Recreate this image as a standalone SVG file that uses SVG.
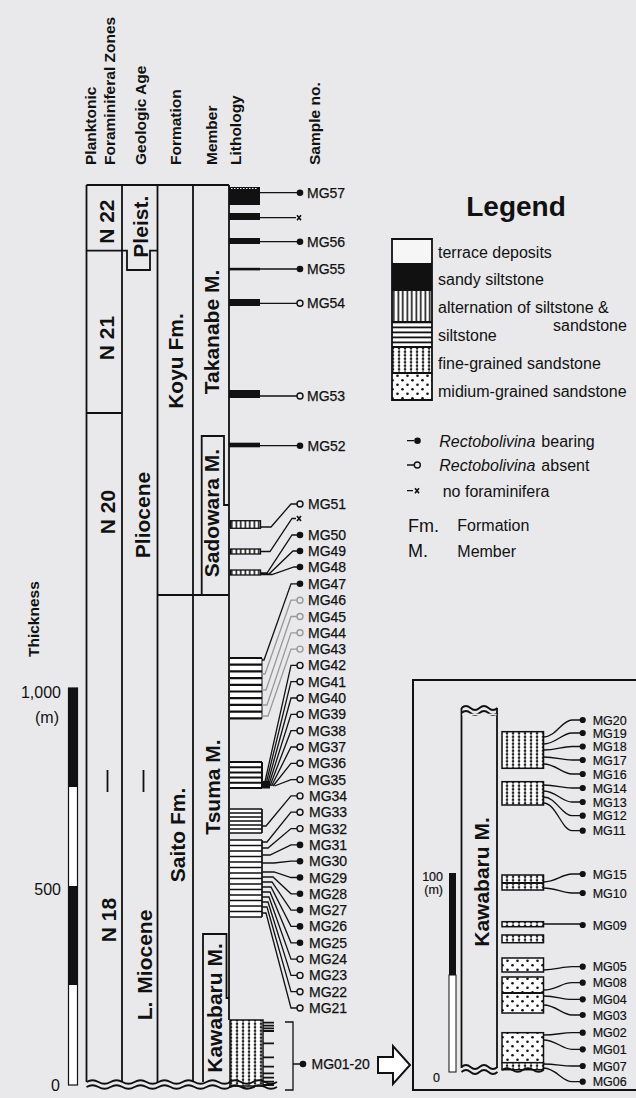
<svg xmlns="http://www.w3.org/2000/svg" width="636" height="1098" viewBox="0 0 636 1098">
<style>
.t{font-family:"Liberation Sans",Arial,Helvetica,sans-serif;fill:#111}
.hd{font-size:15.5px;font-weight:bold}
.cl{font-size:21px;font-weight:bold}
.mg{font-size:14px;stroke:#111;stroke-width:0.25}
.mi{font-size:12.5px;stroke:#111;stroke-width:0.2}
.lg{font-size:16px}
.ln{fill:none;stroke:#111;stroke-width:1.8}
.cn{fill:none;stroke:#111;stroke-width:1.3}
.fa{stroke:#999}
.fd{fill:#111}
.od{fill:#e9e9eb;stroke:#111;stroke-width:1.4}
.og{fill:#e9e9eb;stroke:#999;stroke-width:1.4}
.bk{fill:#111}
</style>
<defs>
<pattern id="pv" width="4.5" height="10" patternUnits="userSpaceOnUse"><rect width="4.5" height="10" fill="#fff"/><rect x="1.5" width="1.6" height="10" fill="#111"/></pattern>
<pattern id="ph" width="10" height="5" patternUnits="userSpaceOnUse"><rect width="10" height="5" fill="#fff"/><rect y="1.5" width="10" height="1.8" fill="#111"/></pattern>
<pattern id="pf" width="6" height="3.5" patternUnits="userSpaceOnUse"><rect width="6" height="3.5" fill="#fff"/><rect x="2.6" width="0.9" height="3.5" fill="#111"/><rect x="1.8" y="1" width="2.4" height="1.5" fill="#111"/></pattern>
<pattern id="pm" width="10" height="9" patternUnits="userSpaceOnUse"><rect width="10" height="9" fill="#fff"/><circle cx="2.5" cy="2.2" r="1.3" fill="#111"/><circle cx="7.5" cy="6.7" r="1.3" fill="#111"/></pattern>
</defs>
<rect width="636" height="1098" fill="#e9e9eb"/>

<g id="headers">
<text class="t hd" transform="translate(96.1,165) rotate(-90)">Planktonic</text>
<text class="t hd" transform="translate(114.7,165) rotate(-90)">Foraminiferal Zones</text>
<text class="t hd" transform="translate(146.1,165) rotate(-90)">Geologic Age</text>
<text class="t hd" transform="translate(181.4,165) rotate(-90)">Formation</text>
<text class="t hd" transform="translate(217.1,165) rotate(-90)">Member</text>
<text class="t hd" transform="translate(241.1,165) rotate(-90)">Lithology</text>
<text class="t hd" transform="translate(320.4,165) rotate(-90)">Sample no.</text>
<text class="t hd" transform="translate(38.5,657) rotate(-90)">Thickness</text>
</g>

<g id="scale">
<rect x="68.5" y="688" width="9" height="99" class="bk"/>
<rect x="68.5" y="787" width="9" height="99" fill="#fff"/>
<rect x="68.5" y="886" width="9" height="99" class="bk"/>
<rect x="68.5" y="985" width="9" height="100" fill="#fff"/>
<rect x="68.5" y="688" width="9" height="397" fill="none" stroke="#111" stroke-width="1.2"/>
<text class="t lg" x="61" y="698" text-anchor="end">1,000</text>
<text class="t lg" x="59" y="723" text-anchor="end">(m)</text>
<text class="t lg" x="61" y="895" text-anchor="end">500</text>
<text class="t lg" x="60" y="1091" text-anchor="end">0</text>
</g>

<g id="columns">
<path class="ln" d="M86.5 185H229M86.5 185V1082M122 185V1082M157.5 185V1082M193 185V1082M229 185V1020"/>
<path class="ln" d="M86.5 250.7H127V270H150V250.7H157.5"/>
<path class="ln" d="M86.5 413H122"/>
<path class="ln" d="M107.5 770V792M143.5 770V792"/>
<path class="ln" d="M157.5 595H229"/>
<path class="ln" d="M201.7 595V436H224V505H229"/>
<path class="ln" d="M203 1082V934H226.5V998H229"/>
<path class="ln" d="M86.5 1082q6 -3.5 12 0t12 0t12 0t12 0t12 0t12 0t12 0t12 0t12 0t12 0t12 0t12 0t12 0t12 0"/>
<path class="ln" d="M86.5 1087q6 -3.5 12 0t12 0t12 0t12 0t12 0t12 0t12 0t12 0t12 0t12 0t12 0t12 0t12 0t12 0"/>
</g>

<g id="labels">
<text class="t cl" transform="translate(114.1,221.7) rotate(-90)" text-anchor="middle">N 22</text>
<text class="t cl" transform="translate(148.1,226.7) rotate(-90)" text-anchor="middle">Pleist.</text>
<text class="t cl" transform="translate(114.1,338) rotate(-90)" text-anchor="middle">N 21</text>
<text class="t cl" transform="translate(183.4,361) rotate(-90)" text-anchor="middle">Koyu Fm.</text>
<text class="t cl" transform="translate(219.1,332) rotate(-90)" text-anchor="middle">Takanabe M.</text>
<text class="t cl" transform="translate(114.6,512) rotate(-90)" text-anchor="middle">N 20</text>
<text class="t cl" transform="translate(150,515) rotate(-90)" text-anchor="middle">Pliocene</text>
<text class="t cl" transform="translate(219.4,513) rotate(-90)" text-anchor="middle">Sadowara M.</text>
<text class="t cl" transform="translate(184.5,835) rotate(-90)" text-anchor="middle">Saito Fm.</text>
<text class="t cl" transform="translate(220.4,787) rotate(-90)" text-anchor="middle">Tsuma M.</text>
<text class="t cl" transform="translate(115.5,920) rotate(-90)" text-anchor="middle">N 18</text>
<text class="t cl" transform="translate(151.5,965) rotate(-90)" text-anchor="middle">L.<tspan dx="8">Miocene</tspan></text>
<text class="t cl" transform="translate(222.4,1008) rotate(-90)" text-anchor="middle">Kawabaru M.</text>
</g>

<g id="lithology">
<rect x="229" y="187" width="31" height="18" class="bk"/>
<path d="M231 188.5H258" stroke="#fff" stroke-width="1.2" stroke-dasharray="1.5 1.5"/>
<rect x="229" y="213" width="31" height="7" class="bk"/>
<rect x="229" y="238" width="31" height="6" class="bk"/>
<rect x="229" y="267.8" width="31" height="2.6" class="bk"/>
<rect x="229" y="299" width="31" height="7" class="bk"/>
<rect x="229" y="390" width="31" height="8" class="bk"/>
<rect x="229" y="442.7" width="31" height="4.6" class="bk"/>
<rect x="230.5" y="520.7" width="30" height="7.6" fill="url(#pv)" stroke="#111" stroke-width="1.3"/>
<rect x="230.5" y="549" width="30" height="5" fill="url(#pv)" stroke="#111" stroke-width="1.3"/>
<rect x="230.5" y="570" width="30" height="5" fill="url(#pv)" stroke="#111" stroke-width="1.3"/>
<rect x="230" y="658" width="32" height="61" fill="#fff"/>
<path stroke="#111" stroke-width="2.2" d="M230 658H262M230 664.7H262M230 671.4H262M230 678.1H262M230 684.8H262M230 691.5H262M230 698.2H262M230 704.9H262M230 711.6H262M230 718.3H262"/>
<path stroke="#111" stroke-width="1" d="M262 658V718.3"/>
<rect x="230" y="762" width="32" height="26" fill="#fff"/>
<path stroke="#111" stroke-width="2" d="M230 762H262M230 767.2H262M230 772.4H262M230 777.6H262M230 782.8H262M230 788H262M262 762V788"/>
<rect x="262" y="781" width="8" height="7.5" class="bk"/>
<rect x="230" y="809" width="32" height="24" fill="#fff"/>
<path stroke="#111" stroke-width="1.7" d="M230 809H262M230 813H262M230 817H262M230 821H262M230 825H262M230 829H262M230 833H262M262 809V833"/>
<rect x="230" y="840" width="32" height="77" fill="#fff"/>
<path stroke="#111" stroke-width="1.7" d="M230 840H262M230 845.5H262M230 851H262M230 856.5H262M230 862H262M230 867.5H262M230 873H262M230 878.5H262M230 884H262M230 889.5H262M230 895H262M230 900.5H262M230 906H262M230 911.5H262M230 917H262M262 840V917"/>
<rect x="230" y="1020" width="33" height="66" fill="url(#pf)" stroke="#111" stroke-width="1.5"/>
<path stroke="#111" stroke-width="1.8" d="M263 1022.7H274M263 1025.7H274M263 1028.3H274M263 1031H274M263 1043.3H274M263 1057.3H274M263 1066.7H274M263 1073.3H274M263 1077.7H274M263 1081.7H274M263 1085H274"/>
<path class="ln" d="M229 1082q6 -3.5 12 0t12 0t12 0t12 0"/>
<path d="M229 1088.5H278V1098H229Z" fill="#e9e9eb"/>
<path class="ln" d="M229 1087q6 -3.5 12 0t12 0t12 0t12 0"/>
</g>

<g id="connectors">
<path class="cn" d="M260 192.7H297M260 217.7H296M260 241.7H297M260 269H297M260 303.3H297M260 396H297M260 445.7H297"/>
<path class="cn" d="M261 527H271L291 504H297M261 551.5H270L292 518.5H296M261 573H267L292 535H297M261 574H269L293 551H297M261 574.5H272L294 567H297"/>
<path class="cn" d="M262 660H264L291 583.8H297"/>
<path class="cn fa" d="M262 674H265L291 600.2H297M262 690H266L291 616.5H297M262 705H267L291 632.8H297M262 716H268L291 649.1H297"/>
<path class="cn" d="M264 786L291 665.4H297M265.5 786L291 681.7H297M267 786L291 698H297M268.5 786L291 714.4H297M270 786L291 730.7H297M271.5 786L291 747H297M273 786L291 763.3H297M274.5 786L291 779.6H297"/>
<path class="cn" d="M262 826H266L291 795.9H297M262 842H267L291 812.2H297M262 848H268L291 828.6H297M262 855H270L291 844.9H297M262 863H274L291 861.2H297"/>
<path class="cn" d="M262 872H274L291 877.5H297M262 877H273L291 893.8H297M262 882H272L291 910.1H297M262 887H271L291 926.4H297M262 892H270L291 942.8H297M262 897H269L291 959.1H297M262 902H268L291 975.4H297M262 907H267L291 991.7H297M262 913H266L291 1008H297"/>
<path class="cn" d="M285 1022H293V1090H285M293 1064H300"/>
<path d="M378 1057H393V1046L410 1065L393 1084V1073H378Z" fill="#fff" stroke="#111" stroke-width="2"/>
</g>

<g id="samples">
<circle cx="300" cy="192.7" r="3.3" class="fd"/>
<path d="M297 215.2L301 220.2M301 215.2L297 220.2" stroke="#111" stroke-width="1.6"/>
<circle cx="300" cy="241.7" r="3.3" class="fd"/>
<circle cx="300" cy="269" r="3.3" class="fd"/>
<circle cx="300" cy="303.3" r="3" class="od"/>
<circle cx="300" cy="396" r="3" class="od"/>
<circle cx="300" cy="445.7" r="3.3" class="fd"/>
<circle cx="300" cy="504" r="3" class="od"/>
<path d="M297 516L301 521M301 516L297 521" stroke="#111" stroke-width="1.6"/>
<circle cx="300" cy="535" r="3.3" class="fd"/>
<circle cx="300" cy="551" r="3.3" class="fd"/>
<circle cx="300" cy="567" r="3.3" class="fd"/>
<circle cx="300" cy="583.8" r="3.3" class="fd"/>
<circle cx="300" cy="600.2" r="3" class="og"/>
<circle cx="300" cy="616.5" r="3" class="og"/>
<circle cx="300" cy="632.8" r="3" class="og"/>
<circle cx="300" cy="649.1" r="3" class="og"/>
<circle cx="300" cy="665.4" r="3" class="od"/>
<circle cx="300" cy="681.7" r="3" class="od"/>
<circle cx="300" cy="698" r="3" class="od"/>
<circle cx="300" cy="714.4" r="3" class="od"/>
<circle cx="300" cy="730.7" r="3" class="od"/>
<circle cx="300" cy="747" r="3" class="od"/>
<circle cx="300" cy="763.3" r="3" class="od"/>
<circle cx="300" cy="779.6" r="3" class="od"/>
<circle cx="300" cy="795.9" r="3" class="od"/>
<circle cx="300" cy="812.2" r="3" class="od"/>
<circle cx="300" cy="828.6" r="3" class="od"/>
<circle cx="300" cy="844.9" r="3.3" class="fd"/>
<circle cx="300" cy="861.2" r="3.3" class="fd"/>
<circle cx="300" cy="877.5" r="3.3" class="fd"/>
<circle cx="300" cy="893.8" r="3.3" class="fd"/>
<circle cx="300" cy="910.1" r="3.3" class="fd"/>
<circle cx="300" cy="926.4" r="3.3" class="fd"/>
<circle cx="300" cy="942.8" r="3.3" class="fd"/>
<circle cx="300" cy="959.1" r="3" class="od"/>
<circle cx="300" cy="975.4" r="3" class="od"/>
<circle cx="300" cy="991.7" r="3" class="od"/>
<circle cx="300" cy="1008" r="3" class="od"/>
<circle cx="303" cy="1064" r="3.3" class="fd"/>
<g class="t mg">
<text x="307" y="197.7">MG57</text>
<text x="307" y="246.7">MG56</text>
<text x="307" y="274">MG55</text>
<text x="307" y="308.3">MG54</text>
<text x="307" y="401">MG53</text>
<text x="307.5" y="450.7">MG52</text>
<text x="308" y="509">MG51</text>
<text x="308" y="540">MG50</text>
<text x="308" y="556">MG49</text>
<text x="308" y="572">MG48</text>
<text x="308" y="588.8">MG47</text>
<text x="308" y="605.2">MG46</text>
<text x="308" y="621.5">MG45</text>
<text x="308" y="637.8">MG44</text>
<text x="308" y="654.1">MG43</text>
<text x="308" y="670.4">MG42</text>
<text x="308" y="686.7">MG41</text>
<text x="308" y="703">MG40</text>
<text x="308" y="719.4">MG39</text>
<text x="308" y="735.7">MG38</text>
<text x="308" y="752">MG37</text>
<text x="308" y="768.3">MG36</text>
<text x="308" y="784.6">MG35</text>
<text x="309" y="800.9">MG34</text>
<text x="309" y="817.2">MG33</text>
<text x="309" y="833.6">MG32</text>
<text x="309" y="849.9">MG31</text>
<text x="309" y="866.2">MG30</text>
<text x="309" y="882.5">MG29</text>
<text x="309" y="898.8">MG28</text>
<text x="309" y="915.1">MG27</text>
<text x="309" y="931.4">MG26</text>
<text x="309" y="947.8">MG25</text>
<text x="309" y="964.1">MG24</text>
<text x="309" y="980.4">MG23</text>
<text x="309" y="996.7">MG22</text>
<text x="309" y="1013">MG21</text>
<text x="311.5" y="1069">MG01-20</text>
</g>
</g>

<g id="legend">
<text class="t" x="516" y="216" font-size="28" font-weight="bold" text-anchor="middle">Legend</text>
<rect x="392" y="239" width="40" height="24" fill="#f6f6f6"/>
<rect x="392" y="263" width="40" height="27" class="bk"/>
<rect x="392" y="290" width="40" height="32" fill="url(#pv)"/>
<rect x="392" y="322" width="40" height="25" fill="url(#ph)"/>
<rect x="392" y="347" width="40" height="26" fill="url(#pf)"/>
<rect x="392" y="373" width="40" height="27" fill="url(#pm)"/>
<path class="ln" d="M392 239H432V400H392ZM392 290H432M392 322H432M392 347H432M392 373H432"/>
<g class="t lg">
<text x="438" y="257.5">terrace deposits</text>
<text x="438" y="285">sandy siltstone</text>
<text x="438" y="312.5">alternation of siltstone &amp;</text>
<text x="553" y="331">sandstone</text>
<text x="438" y="341">siltstone</text>
<text x="438" y="368.5">fine-grained sandstone</text>
<text x="438" y="396.5">midium-grained sandstone</text>
<text x="439.3" y="446.5"><tspan font-style="italic">Rectobolivina</tspan><tspan dx="6">bearing</tspan></text>
<text x="439.3" y="470.8"><tspan font-style="italic">Rectobolivina</tspan><tspan dx="6">absent</tspan></text>
<text x="442.7" y="496.5">no foraminifera</text>
<text x="408" y="531.5" font-size="18">Fm.</text>
<text x="457.3" y="531">Formation</text>
<text x="408" y="557" font-size="18">M.</text>
<text x="457.3" y="557">Member</text>
</g>
<path class="cn" d="M407 440.7H414M407 465H414M407 490.7H413"/>
<circle cx="417.5" cy="440.7" r="3.3" class="fd"/>
<circle cx="417.3" cy="465" r="3" class="od"/>
<path d="M415 488.2L419 493.2M419 488.2L415 493.2" stroke="#111" stroke-width="1.6"/>
</g>

<g id="inset">
<rect x="413" y="680" width="232" height="410" fill="none" stroke="#111" stroke-width="2"/>
<rect x="449" y="873" width="7" height="102" class="bk"/>
<rect x="449" y="975" width="7" height="97" fill="#fff" stroke="#111" stroke-width="1"/>
<text class="t mi" x="443" y="881" text-anchor="end">100</text>
<text class="t mi" x="443" y="894" text-anchor="end">(m)</text>
<text class="t mi" x="440" y="1082" text-anchor="end">0</text>
<path class="ln" d="M461.5 708V1068M497 708V1068"/>
<path class="ln" d="M461.5 708q4.5 -4 9 0t9 0t9 0t9 0M461.5 713q4.5 -4 9 0t9 0t9 0t9 0"/>
<path d="M462 714.5H496.5" stroke="#e9e9eb" stroke-width="1.5"/>
<path class="ln" d="M461.5 1067q4.5 -4 9 0t9 0t9 0t9 0M461.5 1072q4.5 -4 9 0t9 0t9 0t9 0"/>
<text class="t cl" transform="translate(489.1,882) rotate(-90)" text-anchor="middle">Kawabaru M.</text>
<rect x="502" y="731.7" width="41.5" height="36.6" fill="url(#pf)" stroke="#111" stroke-width="1.5"/>
<rect x="502" y="781.7" width="41.5" height="23.3" fill="url(#pf)" stroke="#111" stroke-width="1.5"/>
<rect x="502" y="875" width="41.5" height="15" fill="url(#pf)" stroke="#111" stroke-width="1.5"/>
<path class="ln" d="M502 883H543.5"/>
<rect x="502" y="921.7" width="41.5" height="5" fill="url(#pf)" stroke="#111" stroke-width="1.5"/>
<rect x="502" y="935" width="41.5" height="7.7" fill="url(#pf)" stroke="#111" stroke-width="1.5"/>
<rect x="502" y="958" width="41.5" height="14" fill="url(#pm)" stroke="#111" stroke-width="1.5"/>
<rect x="502" y="977" width="41.5" height="36" fill="url(#pm)" stroke="#111" stroke-width="1.5"/>
<path class="ln" d="M502 993H543.5"/>
<rect x="502" y="1032.7" width="41.5" height="30" fill="url(#pm)" stroke="#111" stroke-width="1.5"/>
<rect x="502" y="1062.7" width="41.5" height="7" fill="url(#pf)" stroke="#111" stroke-width="1.5"/>
<path class="ln" d="M502 1070q5 -3.5 10.4 0t10.4 0t10.4 0t10.4 0"/>
<path class="cn" d="M543.5 737C556 737 562 720 572 720H580M543.5 744C556 744 562 733 572 733H580M543.5 750C556 750 562 746.5 572 746.5H580M543.5 757C556 757 562 760 572 760H580M543.5 764C556 764 562 774 572 774H580M543.5 785C556 785 562 788 572 788H580M543.5 791C556 791 562 802 572 802H580M543.5 797C556 797 562 815.7 572 815.7H580M543.5 803C556 803 562 830.7 572 830.7H580"/>
<path class="cn" d="M543.5 882C556 882 562 874 572 874H580M543.5 888C556 888 562 893 572 893H580M543.5 924H580M543.5 970C556 970 562 966.7 572 966.7H580M543.5 990C556 990 562 982.7 572 982.7H580M543.5 996C556 996 562 999.3 572 999.3H580M543.5 1005C556 1005 562 1015 572 1015H580M543.5 1035C556 1035 562 1032.7 572 1032.7H580M543.5 1040C556 1040 562 1049.3 572 1049.3H580M543.5 1064C556 1064 562 1066 572 1066H580M543.5 1068C556 1068 562 1081.7 572 1081.7H580"/>
<g class="fd">
<circle cx="582.7" cy="720" r="3.1"/><circle cx="582.7" cy="733" r="3.1"/><circle cx="582.7" cy="746.5" r="3.1"/><circle cx="582.7" cy="760" r="3.1"/><circle cx="582.7" cy="774" r="3.1"/><circle cx="582.7" cy="788" r="3.1"/><circle cx="582.7" cy="802" r="3.1"/><circle cx="582.7" cy="815.7" r="3.1"/><circle cx="582.7" cy="830.7" r="3.1"/>
<circle cx="582.7" cy="874" r="3.1"/><circle cx="582.7" cy="893" r="3.1"/><circle cx="582.7" cy="925" r="3.1"/><circle cx="582.7" cy="966.7" r="3.1"/><circle cx="582.7" cy="982.7" r="3.1"/><circle cx="582.7" cy="999.3" r="3.1"/><circle cx="582.7" cy="1015" r="3.1"/><circle cx="582.7" cy="1032.7" r="3.1"/><circle cx="582.7" cy="1049.3" r="3.1"/><circle cx="582.7" cy="1066" r="3.1"/><circle cx="582.7" cy="1081.7" r="3.1"/>
</g>
<g class="t mi">
<text x="592.7" y="724.5">MG20</text>
<text x="592.7" y="737.5">MG19</text>
<text x="592.7" y="751">MG18</text>
<text x="592.7" y="764.5">MG17</text>
<text x="592.7" y="778.5">MG16</text>
<text x="592.7" y="792.5">MG14</text>
<text x="592.7" y="806.5">MG13</text>
<text x="592.7" y="820.2">MG12</text>
<text x="592.7" y="835.2">MG11</text>
<text x="592.7" y="878.5">MG15</text>
<text x="592.7" y="897.5">MG10</text>
<text x="592.7" y="929.5">MG09</text>
<text x="592.7" y="971.2">MG05</text>
<text x="592.7" y="987.2">MG08</text>
<text x="592.7" y="1003.8">MG04</text>
<text x="592.7" y="1019.5">MG03</text>
<text x="592.7" y="1037.2">MG02</text>
<text x="592.7" y="1053.8">MG01</text>
<text x="592.7" y="1070.5">MG07</text>
<text x="592.7" y="1086.2">MG06</text>
</g>
</g>
</svg>
